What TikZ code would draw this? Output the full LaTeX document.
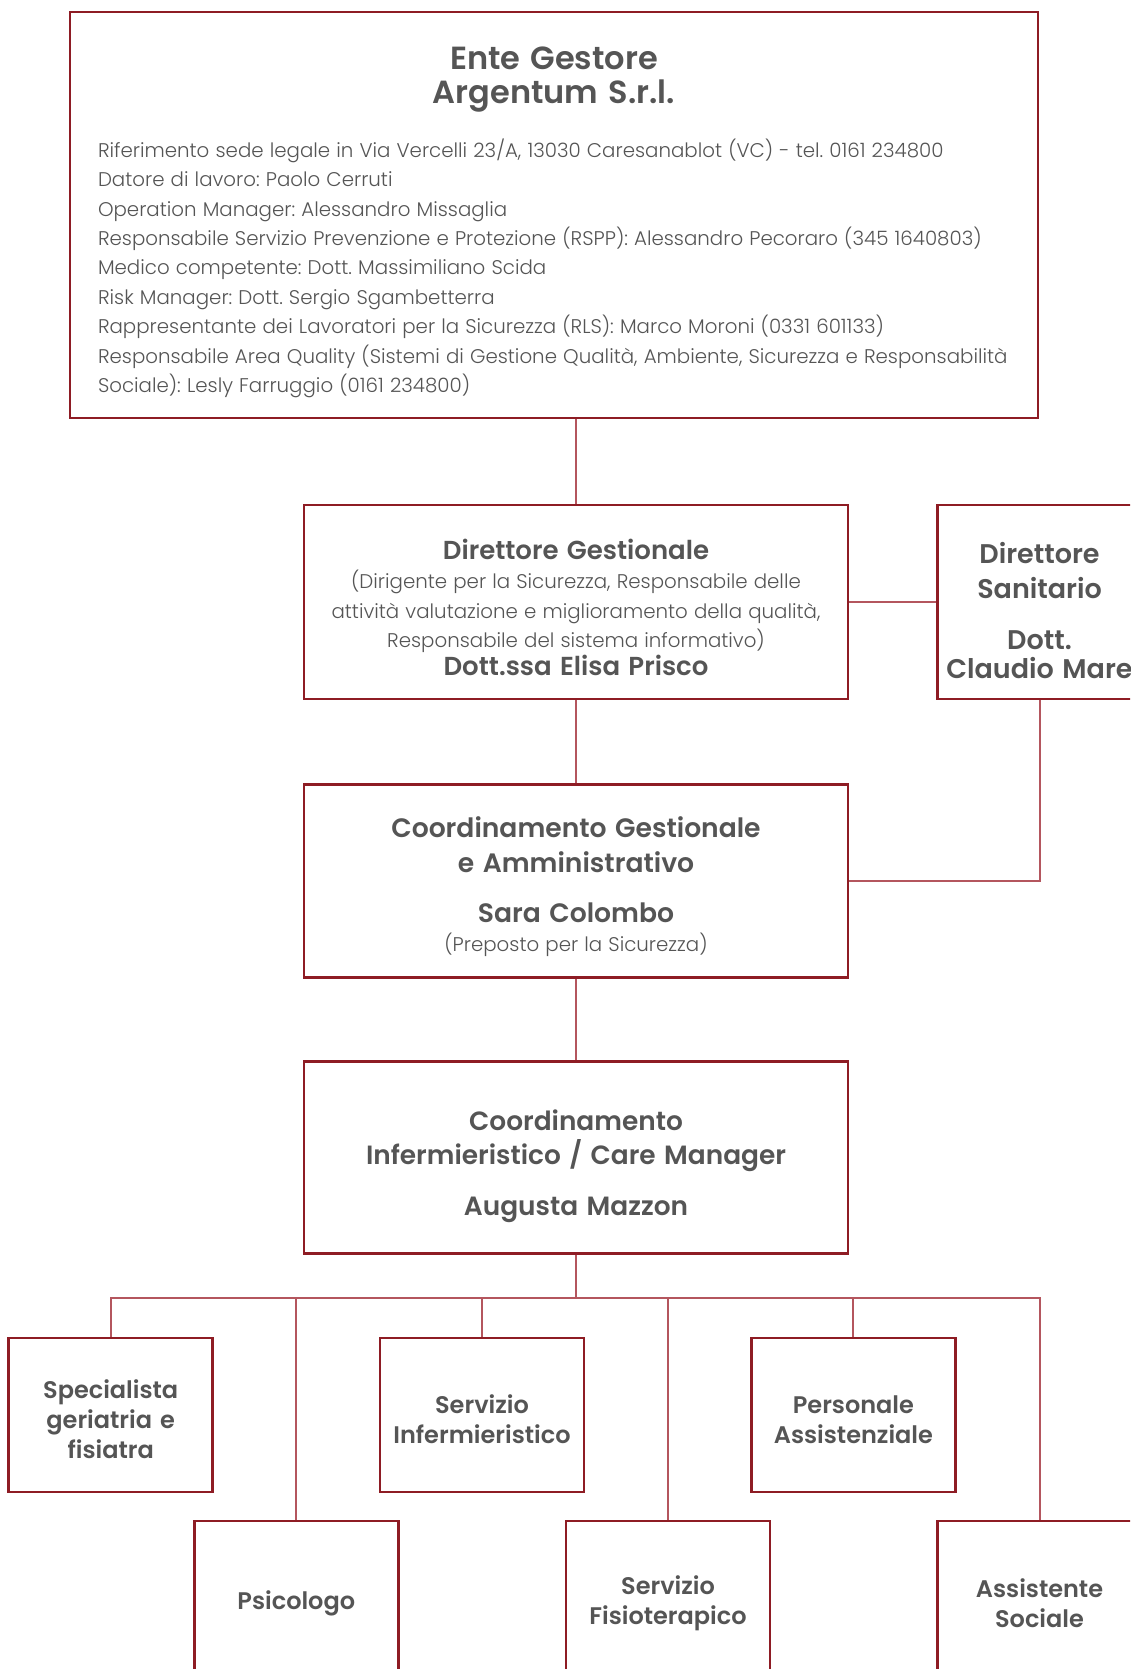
\documentclass[tikz,border=0pt]{standalone}
\usepackage{fontspec}
\setmainfont{Poppins}[UprightFont={* Light}]
\newfontfamily\semib{Poppins SemiBold}
\usetikzlibrary{positioning}
\definecolor{orgred}{HTML}{8E1C24}
\definecolor{linkred}{HTML}{B4565E}
\definecolor{textgray}{HTML}{555555}
\newcommand\toppad[1]{\par\vspace*{#1}}
\newcommand\headfont[2]{\fontsize{#1}{#2}\semib\spaceskip=.32em\xspaceskip=.32em\relax}
\newcommand\plainfont[2]{\fontsize{#1}{#2}\rmfamily\spaceskip=.31em\xspaceskip=.31em\relax}

\begin{document}
\begin{tikzpicture}[
  x=1pt, y=-1pt,
  every node/.style={text=textgray},
  box/.style={draw=orgred, line width=2.6pt, fill=white, align=center, inner sep=0pt},
  unitbox/.style={box, minimum width=204pt, minimum height=154pt, text width=204pt,
    font=\headfont{24}{30}, execute at begin node={\toppad{#1}}},
  unitbox/.default=-2.1pt,
  link/.style={draw=linkred, line width=2pt},
]

\useasboundingbox (0,0) rectangle (1130,1669);
\clip (0,0) rectangle (1130,1669);

% ═══════════════════════════════════════════
% ENTE GESTORE
% ═══════════════════════════════════════════
\node[box, minimum width=968pt, minimum height=406pt, text width=950pt,
  align=left] (ente) at (554,215) {
  \toppad{3.7pt}
  {\centering\headfont{32}{34}Ente Gestore\\Argentum S.r.l.\par}
  \vspace{24pt}
  {\plainfont{19.8}{29.4}\leftskip=19pt
  Riferimento sede legale in Via Vercelli 23/A, 13030 Caresanablot (VC) - tel. 0161 234800\\
  Datore di lavoro: Paolo Cerruti\\
  Operation Manager: Alessandro Missaglia\\
  Responsabile Servizio Prevenzione e Protezione (RSPP): Alessandro Pecoraro (345 1640803)\\
  Medico competente: Dott. Massimiliano Scida\\
  Risk Manager: Dott. Sergio Sgambetterra\\
  Rappresentante dei Lavoratori per la Sicurezza (RLS): Marco Moroni (0331 601133)\\
  Responsabile Area Quality (Sistemi di Gestione Qualità, Ambiente, Sicurezza e Responsabilità\\
  Sociale): Lesly Farruggio (0161 234800)\par}
};

% ═══════════════════════════════════════════
% DIREZIONE
% ═══════════════════════════════════════════
\node[box, minimum width=544pt, minimum height=194pt, text width=530pt] (dg) at (576,602) {
  \toppad{1.4pt}
  \headfont{26}{29}Direttore Gestionale\par
  \plainfont{19.8}{29.5}(Dirigente per la Sicurezza, Responsabile delle\\
  attività valutazione e miglioramento della qualità,\\
  Responsabile del sistema informativo)\par
  \headfont{26}{27.5}Dott.ssa Elisa Prisco\par
};

\node[box, minimum width=204pt, minimum height=194pt, text width=260pt,
  inner xsep=-28pt] (san) at (1039.5,602) {
  \toppad{3pt}
  \headfont{27}{35}Direttore\\Sanitario\\[16pt]
  Dott.\\[-6pt]Claudio Mare\par
};

% ═══════════════════════════════════════════
% COORDINAMENTI
% ═══════════════════════════════════════════
\node[box, minimum width=544pt, minimum height=193pt, text width=530pt,
  below=83pt of dg] (cgest) {
  \toppad{-2.8pt}
  \headfont{26.6}{35}Coordinamento Gestionale\\e Amministrativo\par
  \vspace{15pt}
  Sara Colombo\par
  \plainfont{19.8}{29}(Preposto per la Sicurezza)\par
};

\node[box, minimum width=544pt, minimum height=192pt, text width=530pt,
  below=81pt of cgest] (cinf) {
  \toppad{5.4pt}
  \headfont{26.4}{34}Coordinamento\\Infermieristico / Care Manager\\[17pt]
  Augusta Mazzon\par
};

% ═══════════════════════════════════════════
% SERVIZI
% ═══════════════════════════════════════════
\node[unitbox] (spec)   at (110.7,1415) {Specialista\\geriatria e\\fisiatra};
\node[unitbox] (infer)  at (482,1415)   {Servizio\\Infermieristico};
\node[unitbox] (pers)   at (853.4,1415) {Personale\\Assistenziale};
\begin{scope}[every node/.append style={minimum height=160pt}]
\node[unitbox=0pt] (psico)  at (296.3,1598) {Psicologo};
\node[unitbox=0pt] (fisio)  at (668,1598)   {Servizio\\Fisioterapico};
\node[unitbox=0pt] (assist) at (1039.5,1598) {Assistente\\Sociale};
\end{scope}

% ═══════════════════════════════════════════
% COLLEGAMENTI
% ═══════════════════════════════════════════
\path[link] (dg.north) -- (dg.north |- ente.south);
\path[link] (dg.east) -- (san.west);
\path[link] (dg.south) -- (cgest.north);
\path[link] (san.south) |- (cgest.east);
\path[link] (cgest.south) -- (cinf.north);
\path[link] (cinf.south) -- ++(0,43) coordinate (bus);
\path[link] (spec.north) |- (bus) -| (assist.north);
\foreach \unit in {psico, infer, fisio, pers} {
  \path[link] (\unit.north) -- (\unit.north |- bus);
}

\end{tikzpicture}
\end{document}
